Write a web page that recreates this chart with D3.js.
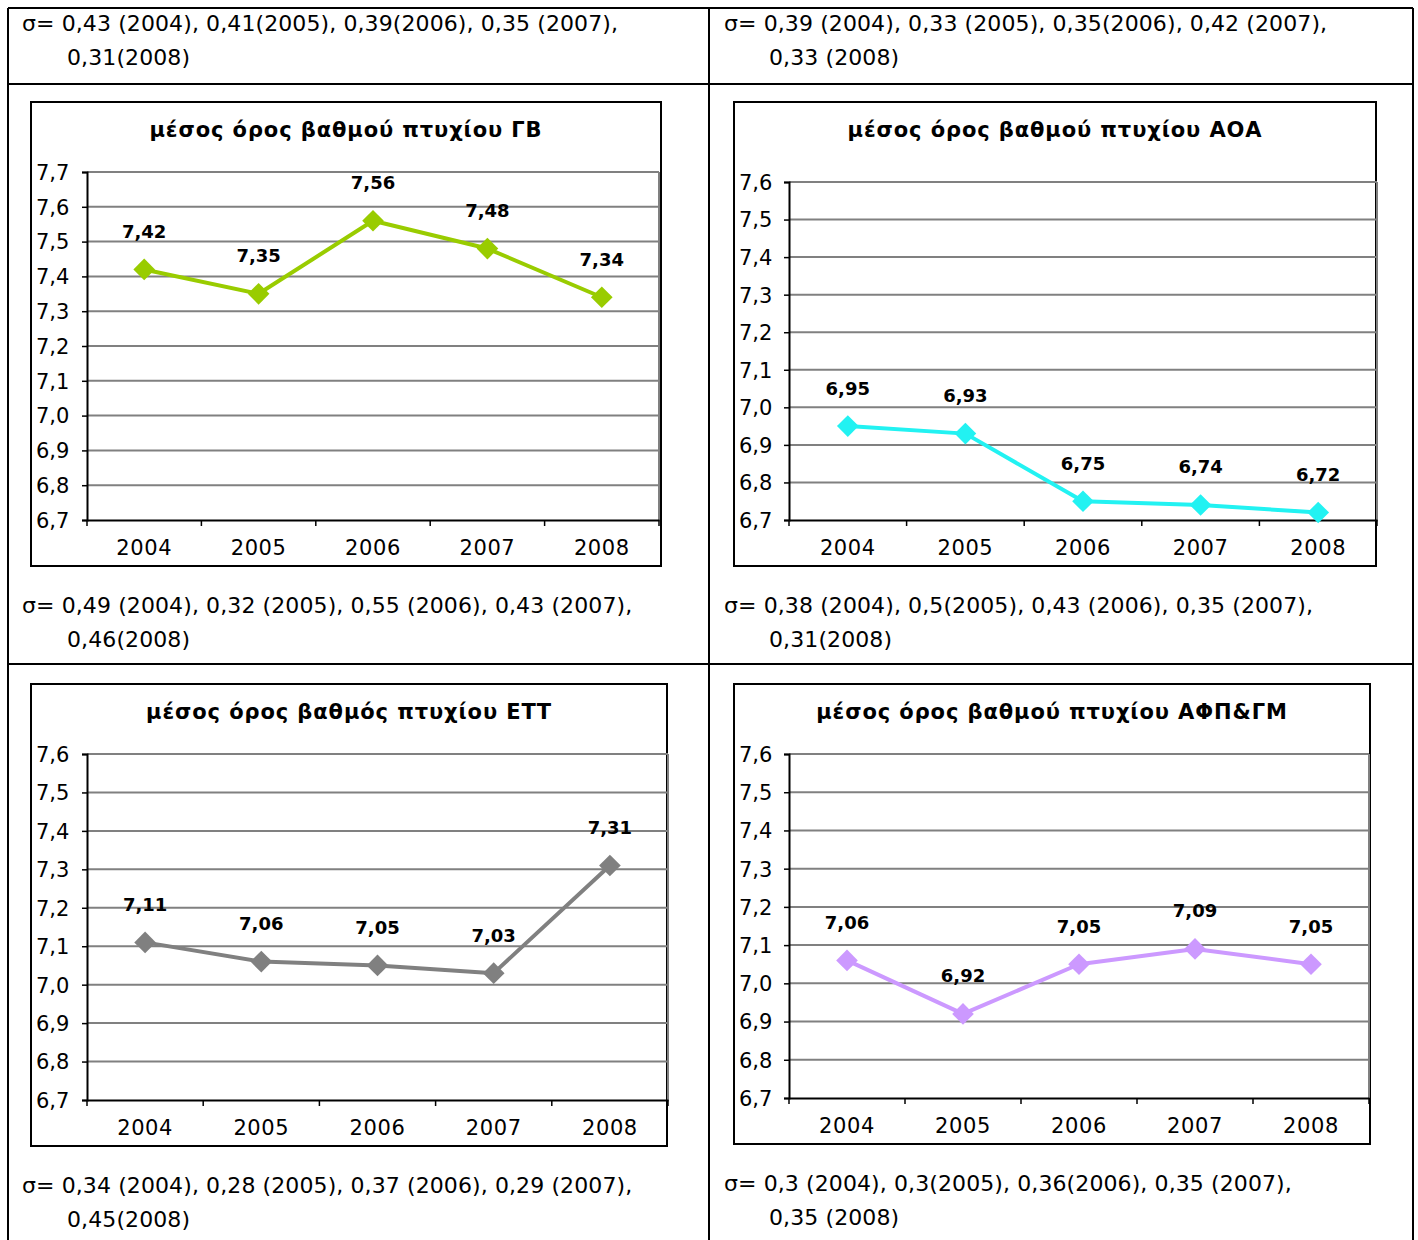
<!DOCTYPE html>
<html>
<head>
<meta charset="utf-8">
<script src="https://cdn.jsdelivr.net/npm/d3@7"></script>
<style>
  html, body { margin: 0; padding: 0; background: #fff; }
  svg { display: block; }
</style>
</head>
<body>
<script>
// ---------- DATA ----------
const years = ["2004", "2005", "2006", "2007", "2008"];

const titleGB = "μέσος όρος βαθμού πτυχίου ΓΒ";
const titleAOA = "μέσος όρος βαθμού πτυχίου ΑΟΑ";
const titleETT = "μέσος όρος βαθμός πτυχίου ΕΤΤ";
const titleAFP = "μέσος όρος βαθμού πτυχίου ΑΦΠ&ΓΜ";

const valuesGB = [7.42, 7.35, 7.56, 7.48, 7.34];
const valuesAOA = [6.95, 6.93, 6.75, 6.74, 6.72];
const valuesETT = [7.11, 7.06, 7.05, 7.03, 7.31];
const valuesAFP = [7.06, 6.92, 7.05, 7.09, 7.05];

const yTicksGB = [6.7, 6.8, 6.9, 7.0, 7.1, 7.2, 7.3, 7.4, 7.5, 7.6, 7.7];
const yTicksOther = [6.7, 6.8, 6.9, 7.0, 7.1, 7.2, 7.3, 7.4, 7.5, 7.6];

const sigmaTopLeft = ["σ= 0,43 (2004), 0,41(2005), 0,39(2006), 0,35 (2007),", "0,31(2008)"];
const sigmaTopRight = ["σ= 0,39 (2004), 0,33 (2005), 0,35(2006), 0,42 (2007),", "0,33 (2008)"];
const sigmaGB = ["σ= 0,49 (2004), 0,32 (2005), 0,55 (2006), 0,43 (2007),", "0,46(2008)"];
const sigmaAOA = ["σ= 0,38 (2004), 0,5(2005), 0,43 (2006), 0,35 (2007),", "0,31(2008)"];
const sigmaETT = ["σ= 0,34 (2004), 0,28 (2005), 0,37 (2006), 0,29 (2007),", "0,45(2008)"];
const sigmaAFP = ["σ= 0,3 (2004), 0,3(2005), 0,36(2006), 0,35 (2007),", "0,35 (2008)"];

// ---------- LAYOUT ----------
const W = 1418, H = 1240;
const FONT = "'DejaVu Sans', Verdana, sans-serif";
const svg = d3.select("body").append("svg").attr("width", W).attr("height", H);
svg.append("rect").attr("width", W).attr("height", H).attr("fill", "#fff");

// table grid
const tbl = svg.append("g").attr("stroke", "#000").attr("stroke-width", 2);
[[8, 8, 1413, 8], [8, 84, 1413, 84], [8, 664, 1413, 664],
 [8, 8, 8, 1240], [709, 8, 709, 1240], [1413, 8, 1413, 1240]].forEach(l =>
  tbl.append("line").attr("x1", l[0]).attr("y1", l[1]).attr("x2", l[2]).attr("y2", l[3]));

function sigmaText(lines, x, y) {
  const g = svg.append("g").attr("font-family", FONT).attr("font-size", 22)
    .attr("letter-spacing", 0.1).attr("fill", "#000");
  g.append("text").attr("x", x).attr("y", y).attr("dominant-baseline", "central").text(lines[0]);
  g.append("text").attr("x", x + 45).attr("y", y + 34).attr("dominant-baseline", "central").text(lines[1]);
}

sigmaText(sigmaTopLeft, 22, 23);
sigmaText(sigmaTopRight, 724, 23);
sigmaText(sigmaGB, 22, 605);
sigmaText(sigmaAOA, 724, 605);
sigmaText(sigmaETT, 22, 1185);
sigmaText(sigmaAFP, 724, 1183);

function chart(cfg) {
  const g = svg.append("g");
  // outer box
  g.append("rect").attr("x", cfg.box[0]).attr("y", cfg.box[1])
    .attr("width", cfg.box[2]).attr("height", cfg.box[3])
    .attr("fill", "#fff").attr("stroke", "#000").attr("stroke-width", 2);
  // title
  g.append("text").attr("x", cfg.box[0] + cfg.box[2] / 2).attr("y", cfg.box[1] + 28)
    .attr("text-anchor", "middle").attr("dominant-baseline", "central")
    .attr("font-family", FONT).attr("font-weight", "bold").attr("font-size", 21)
    .attr("letter-spacing", 0.9)
    .text(cfg.title);

  const [l, r, t, b] = cfg.plot;
  const x = d3.scaleBand().domain(years).range([l, r]).padding(0);
  const y = d3.scaleLinear().domain([cfg.yTicks[0], cfg.yTicks[cfg.yTicks.length - 1]]).range([b, t]);

  // gridlines
  g.append("g").selectAll("line").data(cfg.yTicks.slice(1)).join("line")
    .attr("x1", l).attr("x2", r).attr("y1", d => y(d)).attr("y2", d => y(d))
    .attr("stroke", "#808080").attr("stroke-width", 2);
  // right border of plot
  g.append("line").attr("x1", r).attr("x2", r).attr("y1", t).attr("y2", b)
    .attr("stroke", "#808080").attr("stroke-width", 2);

  // y axis
  const yAxis = d3.axisLeft(y).tickValues(cfg.yTicks).tickSize(5).tickPadding(0)
    .tickFormat(d => d3.format(".1f")(d).replace(".", ","));
  const ya = g.append("g").attr("transform", `translate(${l},0)`).call(yAxis);
  ya.select(".domain").attr("stroke", "#000").attr("stroke-width", 2);
  ya.selectAll(".tick line").attr("stroke", "#000").attr("stroke-width", 1.5);
  ya.selectAll(".tick text").attr("font-family", FONT).attr("font-size", 21)
    .attr("fill", "#000").attr("text-anchor", "start").attr("x", cfg.box[0] + 5 - l)
    .attr("dy", "0.35em");

  // x axis
  const xa = g.append("g").attr("transform", `translate(0,${b})`)
    .call(d3.axisBottom(x).tickSize(0).tickPadding(0));
  xa.select(".domain").attr("stroke", "#000").attr("stroke-width", 2);
  xa.selectAll(".tick text").attr("font-family", FONT).attr("font-size", 21)
    .attr("letter-spacing", 0.6)
    .attr("fill", "#000").attr("y", 28).attr("dy", "0.35em");
  // category boundary ticks
  const bounds = years.map(d => x(d)).concat([x(years[years.length - 1]) + x.bandwidth()]);
  g.append("g").selectAll("line").data(bounds).join("line")
    .attr("x1", d => d).attr("x2", d => d).attr("y1", b).attr("y2", b + 6)
    .attr("stroke", "#000").attr("stroke-width", 1.5);

  const cx = d => x(d) + x.bandwidth() / 2;
  const pts = years.map((yr, i) => ({ yr, v: cfg.values[i] }));

  // line
  g.append("path").datum(pts)
    .attr("d", d3.line().x(d => cx(d.yr)).y(d => y(d.v)))
    .attr("fill", "none").attr("stroke", cfg.color).attr("stroke-width", 4)
    .attr("stroke-linejoin", "round");
  // markers
  g.append("g").selectAll("path").data(pts).join("path")
    .attr("d", d3.symbol().type(d3.symbolSquare).size(235))
    .attr("transform", d => `translate(${cx(d.yr)},${y(d.v)}) rotate(45)`)
    .attr("fill", cfg.color);
  // labels
  g.append("g").selectAll("text").data(pts).join("text")
    .attr("x", d => cx(d.yr)).attr("y", d => y(d.v) - 38)
    .attr("text-anchor", "middle").attr("dominant-baseline", "central")
    .attr("font-family", FONT).attr("font-weight", "bold").attr("font-size", 18)
    .attr("fill", "#000")
    .text(d => d3.format(".2f")(d.v).replace(".", ","));
}

chart({ title: titleGB, values: valuesGB, yTicks: yTicksGB, color: "#99cc00",
        box: [31, 102, 630, 464], plot: [87, 659, 172, 520] });
chart({ title: titleAOA, values: valuesAOA, yTicks: yTicksOther, color: "#22f2f2",
        box: [734, 102, 642, 464], plot: [789, 1377, 182, 520] });
chart({ title: titleETT, values: valuesETT, yTicks: yTicksOther, color: "#808080",
        box: [31, 684, 636, 462], plot: [87, 668, 754, 1100] });
chart({ title: titleAFP, values: valuesAFP, yTicks: yTicksOther, color: "#cc99ff",
        box: [734, 684, 636, 460], plot: [789, 1369, 754, 1098] });
</script>
</body>
</html>
